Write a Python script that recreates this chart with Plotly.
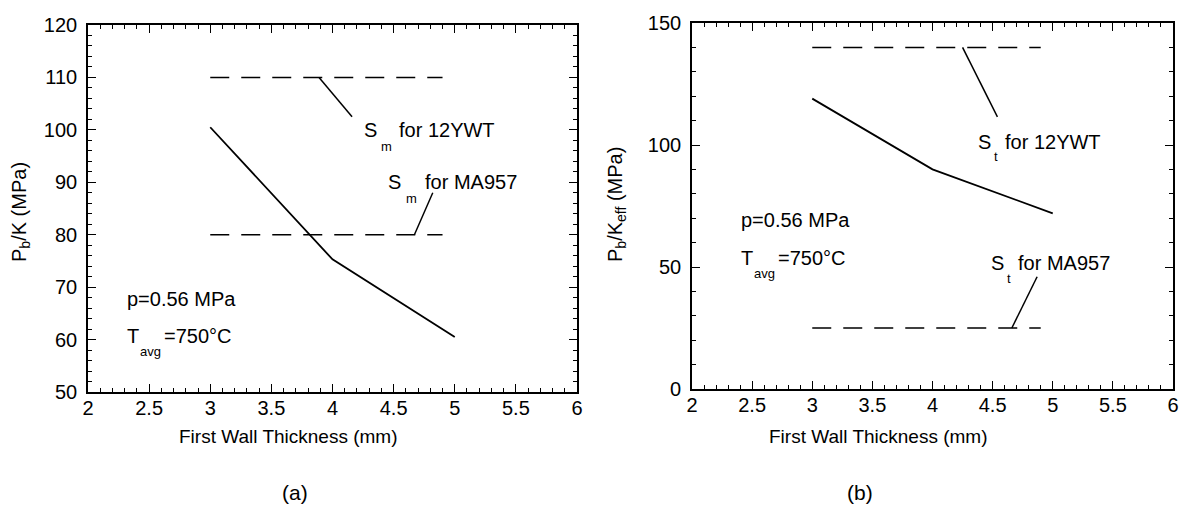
import plotly.graph_objects as go

# ---------------- data ----------------
thickness = [3, 4, 5]                      # first wall thickness (mm)
pbk_a = [100.5, 75.3, 60.5]                # P_b/K (MPa), panel (a)
pbk_b = [119.0, 90.0, 72.0]                # P_b/K_eff (MPa), panel (b)

limit_x = [3.0, 4.9]                       # extent of the allowable-stress lines
sm_12ywt = [110, 110]                      # S_m for 12YWT
sm_ma957 = [80, 80]                        # S_m for MA957
st_12ywt = [140, 140]                      # S_t for 12YWT
st_ma957 = [25, 25]                        # S_t for MA957

# leader lines (label pointers)
lead_a1_x, lead_a1_y = [3.89, 4.16], [110, 102.5]
lead_a2_x, lead_a2_y = [4.67, 4.82], [80, 88.0]
lead_b1_x, lead_b1_y = [4.25, 4.54], [140, 111.5]
lead_b2_x, lead_b2_y = [4.66, 4.87], [25, 46.0]

x_range = [2, 6]
ya_range = [50, 120]
yb_range = [0, 150]

FONT = "Liberation Sans, Arial, Helvetica, sans-serif"
NARROW = "Liberation Sans Narrow, Arial Narrow, Liberation Sans, Arial, sans-serif"
BLACK = "black"
DASH = "19px,12px"

# page body has an 8px margin: size the figure so it fits the window
OFF = 8
W, H = 1188 - 2 * OFF, 527 - 2 * OFF


def px(p):
    return min(1.0, max(0.0, (p - OFF) / W))


def py(p):
    return min(1.0, max(0.0, 1 - (p - OFF) / H))


fig = go.Figure()


def line(x, y, xa, ya, dash="solid", width=1.8):
    fig.add_trace(go.Scatter(x=x, y=y, xaxis=xa, yaxis=ya, mode="lines",
                             line=dict(color=BLACK, width=width, dash=dash),
                             showlegend=False, hoverinfo="skip"))


# panel (a)
line(thickness, pbk_a, "x", "y")
line(limit_x, sm_12ywt, "x", "y", dash=DASH, width=1.5)
line(limit_x, sm_ma957, "x", "y", dash=DASH, width=1.5)
line(lead_a1_x, lead_a1_y, "x", "y", width=1.5)
line(lead_a2_x, lead_a2_y, "x", "y", width=1.5)

# panel (b)
line(thickness, pbk_b, "x2", "y2")
line(limit_x, st_12ywt, "x2", "y2", dash=DASH, width=1.5)
line(limit_x, st_ma957, "x2", "y2", dash=DASH, width=1.5)
line(lead_b1_x, lead_b1_y, "x2", "y2", width=1.5)
line(lead_b2_x, lead_b2_y, "x2", "y2", width=1.5)


def axis(rng, dtick, minor, domain, anchor, standoff):
    return dict(range=rng, domain=domain, anchor=anchor, dtick=dtick,
                automargin=False, ticklabeloverflow="allow",
                showline=True, linecolor=BLACK, linewidth=1.6, mirror="ticks",
                ticks="inside", ticklen=8, tickwidth=1.3, tickcolor=BLACK,
                minor=dict(dtick=minor, ticks="inside", ticklen=4,
                           tickwidth=1, tickcolor=BLACK),
                showgrid=False, zeroline=False, ticklabelstandoff=standoff,
                tickfont=dict(family=FONT, size=20, color=BLACK))


fig.update_layout(
    template="none",
    width=W, height=H,
    margin=dict(l=0, r=0, t=0, b=0, pad=0),
    paper_bgcolor="white", plot_bgcolor="white",
    xaxis=axis(x_range, 0.5, 0.1, [px(88), px(577)], "y", -3),
    yaxis=axis(ya_range, 10, 2, [py(392), py(25)], "x", 5),
    xaxis2=axis(x_range, 0.5, 0.1, [px(692), px(1173)], "y2", -3),
    yaxis2=axis(yb_range, 50, 10, [py(389), py(23)], "x2", 5),
    font=dict(family=FONT, color=BLACK),
)

ann = []


def txt(text, x, y, xref, yref, size=20, family=FONT, xanchor="left",
        yanchor="middle", angle=0, xshift=0, yshift=0):
    ann.append(dict(text=text, x=x, y=y, xref=xref, yref=yref,
                    xanchor=xanchor, yanchor=yanchor, showarrow=False,
                    textangle=angle, xshift=xshift, yshift=yshift,
                    font=dict(family=family, size=size, color=BLACK)))


def sublabel(main, sub, rest, x, y, xa, ya, sub_dx, rest_dx, sub_dy=-16):
    txt(main, x, y, xa, ya)
    txt(sub, x, y, xa, ya, size=13, xshift=sub_dx, yshift=sub_dy)
    txt(rest, x, y, xa, ya, xshift=rest_dx)


# panel (a) labels
sublabel("S", "m", "for 12YWT", 4.24, 99.9, "x", "y", 17, 35)
sublabel("S", "m", "for MA957", 4.44, 90.0, "x", "y", 18, 37)
txt("p=0.56 MPa", 2.30, 67.7, "x", "y")
sublabel("T", "avg", "=750°C", 2.30, 60.7, "x", "y", 13, 37)

# panel (b) labels
sublabel("S", "t", "for 12YWT", 4.36, 101.4, "x2", "y2", 16, 27, sub_dy=-15)
sublabel("S", "t", "for MA957", 4.47, 51.5, "x2", "y2", 16, 27, sub_dy=-15)
txt("p=0.56 MPa", 2.39, 69.3, "x2", "y2")
sublabel("T", "avg", "=750°C", 2.39, 53.7, "x2", "y2", 13, 37)

# axis titles
txt("First Wall Thickness (mm)", px(288), py(436), "paper", "paper",
    size=19, family=NARROW, xanchor="center")
txt("First Wall Thickness (mm)", px(878), py(436), "paper", "paper",
    size=19, family=NARROW, xanchor="center")
txt("P<sub>b</sub>/K (MPa)", px(20), py(212), "paper", "paper",
    size=20, xanchor="center", angle=-90)
txt("P<sub>b</sub>/K<sub>eff</sub> (MPa)", px(617), py(205), "paper", "paper",
    size=20, xanchor="center", angle=-90)

# panel letters
txt("(a)", px(295), py(492), "paper", "paper", size=21, family=NARROW,
    xanchor="center")
txt("(b)", px(860), py(492), "paper", "paper", size=21, family=NARROW,
    xanchor="center")

fig.update_layout(annotations=ann)
fig.write_html("out.html")
